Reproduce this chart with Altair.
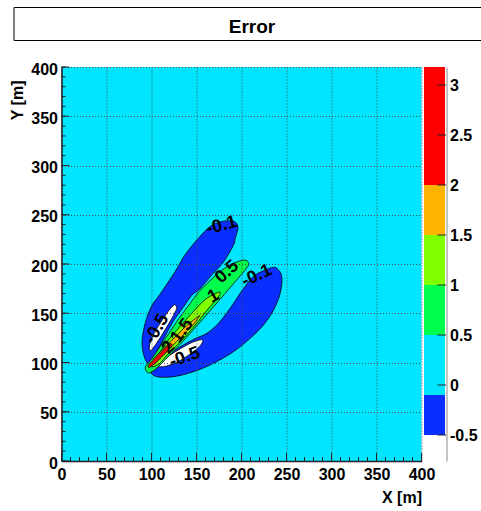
import altair as alt
import pandas as pd

# ---------------- data ----------------
AXIS_TICKS = [0, 50, 100, 150, 200, 250, 300, 350, 400]
MINOR_TICKS = list(range(0, 401, 10))

# colour bar: contour levels and their fill colours
BAND_LO = [-0.5, -0.1, 0.5, 1.0, 1.5, 2.0]
BAND_HI = [-0.1, 0.5, 1.0, 1.5, 2.0, 3.18]
BAND_COLORS = ["#0A2EFF", "#00E6FF", "#00FF4C", "#80FF00", "#FFB400", "#FF0000"]
CBAR_TICKS = [-0.5, 0, 0.5, 1, 1.5, 2, 2.5, 3]
CBAR_DOMAIN = [-0.76, 3.18]

# contour regions (X, Y in metres)
LOBE_NW_X = [95, 91, 89.5, 93, 100, 110, 126, 137, 152, 165, 176, 187, 194, 196, 193, 191, 180, 167, 154, 145, 136, 124, 113, 104, 98.5]
LOBE_NW_Y = [100, 109, 122, 140, 157, 170, 192, 209, 226, 238, 242.6, 244, 242, 236, 226, 219, 202, 189, 175, 168.5, 157, 141.5, 123, 107.5, 101]

WHITE_NW_X = [126, 128, 122.6, 115, 108, 101.5, 98.5, 97.8, 102, 109.6, 117, 123.7]
WHITE_NW_Y = [158.4, 155, 144.8, 133, 122.8, 114.4, 112, 117.8, 128, 139.8, 150, 157.4]

LOBE_SE_X = [239.3, 244.8, 243, 235.6, 224.4, 209.6, 191.1, 168.9, 146.7, 124.4, 105.9, 98.5, 99.3, 106, 117, 133, 148, 161.5, 174.4, 187.4, 198.5, 209.6, 217, 226.3, 233.7]
LOBE_SE_Y = [195.6, 187.1, 170.2, 153.3, 138.1, 124.5, 111, 99.2, 90.7, 85.6, 85.6, 90.7, 96.4, 100, 107, 116.5, 124, 129.6, 139.8, 155, 170.2, 183.8, 189.8, 193.9, 196.3]

WHITE_SE_X = [102.2, 113.3, 128.1, 143, 154.1, 157, 150.4, 139.3, 120.7, 108, 103]
WHITE_SE_Y = [96.8, 95.8, 100.2, 108.6, 117.1, 122.8, 122.2, 117.8, 107.6, 99, 98.5]

GREEN_X = [203, 188, 175, 163.7, 152.6, 141.5, 130.4, 119.2, 108.1, 99, 93, 96.7, 103.7, 114.8, 133.4, 151.9, 174.1, 185.2, 196.3, 205.6, 208]
GREEN_Y = [204, 199.5, 191.3, 181.9, 171.7, 158.2, 144.7, 129.4, 114.2, 102.3, 95, 89.5, 92.6, 102.5, 120, 138.9, 162, 173.8, 185.6, 195.8, 200.5]

YGREEN_X = [175.5, 160.5, 145.7, 130.9, 119.7, 110.5, 103.1, 100.4, 108.8, 118, 132.9, 147.7, 162.5, 173.6]
YGREEN_Y = [171.5, 164.5, 150.9, 135.7, 123.8, 112, 103.5, 96, 98.8, 108.3, 121.8, 137.1, 154, 165.8]

ORANGE_X = [153, 139.3, 128.1, 117, 107.8, 102.2, 104.1, 111.5, 122.6, 133.7, 144.8, 151]
ORANGE_Y = [147.5, 137.7, 127.5, 117.4, 108.9, 103.8, 101.5, 107.2, 116.4, 126.5, 136.7, 144]

RED_X = [120, 111.5, 102.2, 96.7, 97.8, 105.9, 115.2, 122.6]
RED_Y = [118.8, 111, 102.5, 97.5, 95.1, 100.8, 109.3, 116.8]

# contour labels
LABEL_TEXT = ["-0.1", "0.5", "-0.1", "1", "1.5", "2", "-0.5", "-0.5"]
LABEL_X = [178, 184, 217, 169, 134, 119, 106, 137]
LABEL_Y = [239, 192, 188, 167, 132, 115, 134, 105]
LABEL_ANGLE = [345, 318, 335, 330, 305, 315, 300, 340]

TITLE = "Error"

# ---------------- styling ----------------
FONT = "Liberation Sans"
CYAN = BAND_COLORS[1]
W_PLOT = 360
H_PLOT = 394
W_TOTAL = 385

xscale = alt.Scale(domain=[0, 400], range=[0, W_PLOT], nice=False, zero=False)
yscale = alt.Scale(domain=[0, 400], nice=False, zero=False)

common_axis = dict(
    grid=True, gridDash=[1, 2], gridColor="#4a4a4a", gridWidth=1,
    ticks=False, tickSize=0, labelFont=FONT, labelFontSize=16,
    labelFontWeight="bold", labelColor="black", domainColor="#222222",
    domainWidth=1.5, titleFont=FONT, titleFontSize=16, titleFontWeight="bold",
    titleColor="black", zindex=1, labelFlush=False, labelOverlap=False,
    values=AXIS_TICKS, format="d",
)
xaxis = alt.Axis(title="X [m]", titleX=W_PLOT, titleY=41, titleAlign="right",
                 titleBaseline="alphabetic", titleAngle=0, labelPadding=5,
                 **common_axis)
yaxis = alt.Axis(title="Y [m]", titleX=-44, titleY=13, titleAlign="right",
                 titleBaseline="middle", titleAngle=270, labelPadding=4,
                 labelBaseline="middle", labelOffset=2, **common_axis)

bg_df = pd.DataFrame({"x0": [0], "x1": [400], "y0": [0], "y1": [400]})
background = alt.Chart(bg_df).mark_rect(color=CYAN).encode(
    x=alt.X("x0:Q", scale=xscale, axis=xaxis),
    x2="x1:Q",
    y=alt.Y("y0:Q", scale=yscale, axis=yaxis),
    y2="y1:Q",
)


def region(xs, ys, color):
    df = pd.DataFrame({"x": xs, "y": ys, "o": list(range(len(xs)))})
    return alt.Chart(df).mark_line(
        interpolate="cardinal-closed", fill=color, stroke="black",
        strokeWidth=0.8, fillOpacity=1,
    ).encode(x=alt.X("x:Q"), y=alt.Y("y:Q"), order="o:Q")


regions = [
    region(LOBE_NW_X, LOBE_NW_Y, BAND_COLORS[0]),
    region(LOBE_SE_X, LOBE_SE_Y, BAND_COLORS[0]),
    region(WHITE_NW_X, WHITE_NW_Y, "white"),
    region(WHITE_SE_X, WHITE_SE_Y, "white"),
    region(GREEN_X, GREEN_Y, BAND_COLORS[2]),
    region(YGREEN_X, YGREEN_Y, BAND_COLORS[3]),
    region(ORANGE_X, ORANGE_Y, BAND_COLORS[4]),
    region(RED_X, RED_Y, BAND_COLORS[5]),
]

lab_df = pd.DataFrame({"t": LABEL_TEXT, "x": LABEL_X, "y": LABEL_Y, "a": LABEL_ANGLE})
labels = alt.Chart(lab_df).mark_text(
    font=FONT, fontSize=18, fontWeight="bold", color="black",
    align="center", baseline="middle",
).encode(x="x:Q", y="y:Q", text="t:N", angle=alt.Angle("a:Q", scale=None))

major_df = pd.DataFrame({"v": AXIS_TICKS})
minor_df = pd.DataFrame({"v": MINOR_TICKS})
tick_style = dict(color="#222222", strokeWidth=1)
x_minor = alt.Chart(minor_df).mark_rule(**tick_style).encode(
    x="v:Q", y=alt.value(H_PLOT), y2=alt.value(H_PLOT - 4))
x_major = alt.Chart(major_df).mark_rule(**tick_style).encode(
    x="v:Q", y=alt.value(H_PLOT), y2=alt.value(H_PLOT - 8))
y_minor = alt.Chart(minor_df).mark_rule(**tick_style).encode(
    y="v:Q", x=alt.value(0), x2=alt.value(4))
y_major = alt.Chart(major_df).mark_rule(**tick_style).encode(
    y="v:Q", x=alt.value(0), x2=alt.value(8))

title_df = pd.DataFrame({"t": [TITLE]})
title_box = alt.Chart(title_df).mark_rect(fill="white", stroke="black", strokeWidth=1).encode(
    x=alt.value(-47.5), x2=alt.value(440), y=alt.value(-59.5), y2=alt.value(-26.5))
title_text = alt.Chart(title_df).mark_text(
    font=FONT, fontSize=19, fontWeight="bold", color="black",
    align="center", baseline="middle",
).encode(text="t:N", x=alt.value(190.5), y=alt.value(-40.5))

main = alt.layer(background, *regions, labels, x_minor, x_major, y_minor, y_major,
                 title_box, title_text)

# colour bar
cscale = alt.Scale(domain=CBAR_DOMAIN, nice=False, zero=False)
cbar_df = pd.DataFrame({"lo": BAND_LO, "hi": BAND_HI, "c": BAND_COLORS})
caxis = alt.Axis(orient="right", values=CBAR_TICKS, labelExpr="toString(datum.value)",
                 ticks=False, tickSize=0, grid=False, labelFont=FONT, labelFontSize=16,
                 labelFontWeight="bold", labelColor="black", domainColor="#8a8a8a",
                 domainWidth=1, labelPadding=3, title=None, labelFlush=False,
                 labelOverlap=False, labelBaseline="middle")
bands = alt.Chart(cbar_df).mark_rect().encode(
    y=alt.Y("lo:Q", scale=cscale, axis=caxis),
    y2="hi:Q",
    x=alt.value(W_PLOT + 2.5),
    x2=alt.value(W_TOTAL - 1.5),
    color=alt.Color("c:N", scale=None),
)
cticks_df = pd.DataFrame({"v": CBAR_TICKS})
cticks = alt.Chart(cticks_df).mark_rule(color="#222222", strokeWidth=1).encode(
    y="v:Q", x=alt.value(W_TOTAL - 9), x2=alt.value(W_TOTAL - 0.5))
cbar = alt.layer(bands, cticks)

chart = alt.layer(main, cbar).resolve_scale(y="independent").properties(
    width=W_TOTAL, height=H_PLOT,
    autosize=alt.AutoSizeParams(type="none"),
    padding={"left": 61.5, "top": 67, "right": 34.5, "bottom": 50},
    background="white",
).configure_view(stroke=None)

chart.save("out.html", embed_options={"renderer": "svg", "actions": False})
